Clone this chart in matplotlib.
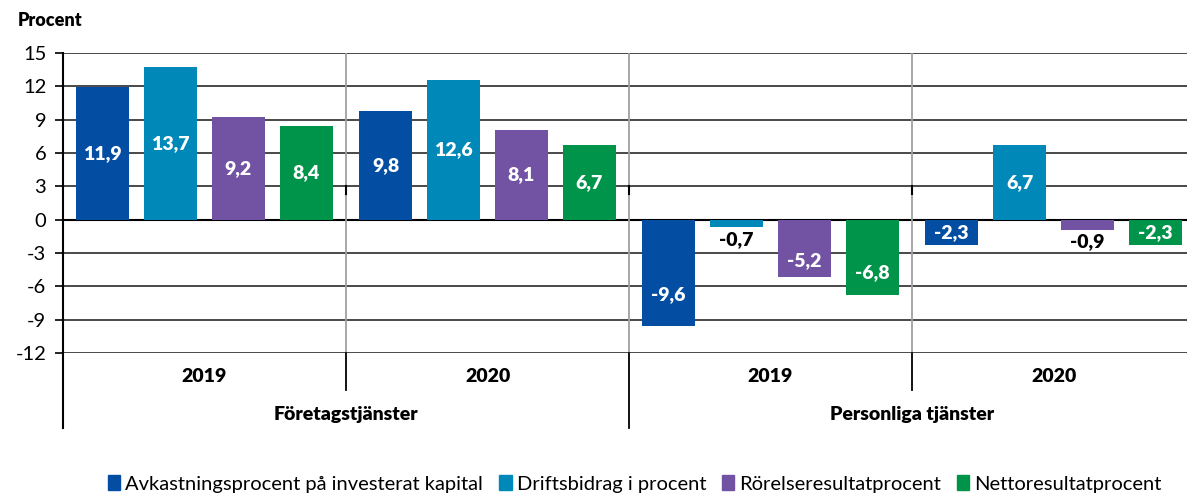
import numpy as np
import matplotlib.pyplot as plt
from matplotlib.patches import Patch

plt.rcParams['font.family'] = ['Lato', 'DejaVu Sans']

# Data
series = ['Avkastningsprocent på investerat kapital', 'Driftsbidrag i procent',
          'Rörelseresultatprocent', 'Nettoresultatprocent']
colors = ['#034ea2', '#0089b8', '#7152a3', '#00944a']
sectors = ['Företagstjänster', 'Personliga tjänster']
years = ['2019', '2020', '2019', '2020']
# rows: groups (sector/year), columns: series
values = np.array([
    [11.9, 13.7, 9.2, 8.4],
    [9.8, 12.6, 8.1, 6.7],
    [-9.6, -0.7, -5.2, -6.8],
    [-2.3, 6.7, -0.9, -2.3],
])
yticks = np.arange(-12, 16, 3)

fig = plt.figure(figsize=(11.87, 4.93), dpi=100)
ax = fig.add_axes([63 / 1187, 1 - 353 / 493, 1132 / 1187, 300 / 493])

n_groups, n_series = values.shape
width = 0.75
lab = dict(ha='center', va='center', fontsize=14, fontweight='heavy', zorder=4)
for i in range(n_series):
    x = np.arange(n_groups) * 4 + 0.56 + i * 0.96
    ax.bar(x, values[:, i], width=width, color=colors[i], zorder=3)
    for xx, v in zip(x, values[:, i]):
        txt = f'{v:.1f}'.replace('.', ',')
        if v > 0:
            ax.text(xx, v / 2, txt, color='white', **lab)
        elif v > -1.5:
            ax.text(xx, v - 1.1, txt, color='black', **lab)
        elif v > -3:
            ax.text(xx, v / 2, txt, color='white', **lab)
        else:
            ax.text(xx, v * 0.7, txt, color='white', **lab)

ax.set_xlim(0, 16)
ax.set_ylim(-12, 15)
ax.set_yticks(yticks)
ax.set_yticklabels([str(t) for t in yticks], fontsize=14.5)
ax.tick_params(axis='y', length=6, width=1.2, color='black', pad=6)
ax.set_xticks([])
ax.yaxis.grid(True, color='#3a3a3a', lw=1.3, zorder=1)
ax.axhline(0, color='black', lw=1.5, zorder=2)
for s in ['top', 'right', 'bottom', 'left']:
    ax.spines[s].set_visible(False)

# axis/separator lines
trans = ax.get_xaxis_transform()
ax.plot([0, 0], [1, -0.25], transform=trans, color='black', lw=1.5, clip_on=False, zorder=5)
for xs in [4, 8, 12]:
    ax.plot([xs, xs], [0, 1], transform=trans, color='#a0a0a0', lw=1.3, zorder=2)
    ax.plot([xs, xs], [15 / 27 - 0.025, 15 / 27], transform=trans, color='black', lw=1.5, zorder=2)
    low = -0.25 if xs == 8 else -0.123
    ax.plot([xs, xs], [0, low], transform=trans, color='black', lw=1.3, clip_on=False)

for g, yr in enumerate(years):
    ax.text(g * 4 + 2, -0.08, yr, transform=trans, ha='center', va='center',
            fontsize=14, fontweight='heavy')
for k, sec in enumerate(sectors):
    ax.text(k * 8 + 4, -0.205, sec, transform=trans, ha='center', va='center',
            fontsize=14, fontweight='heavy')

fig.text(18 / 1187, 1 - 20 / 493, 'Procent', ha='left', va='center',
         fontsize=13, fontweight='heavy')

handles = [Patch(color=c, label=s) for c, s in zip(colors, series)]
fig.legend(handles=handles, loc='center', bbox_to_anchor=(0.535, 1 - 484 / 493), ncol=4,
           frameon=False, fontsize=14.5, handlelength=0.6, handleheight=0.7,
           handletextpad=0.25, columnspacing=0.8)

fig.savefig('out.png', dpi=100)
